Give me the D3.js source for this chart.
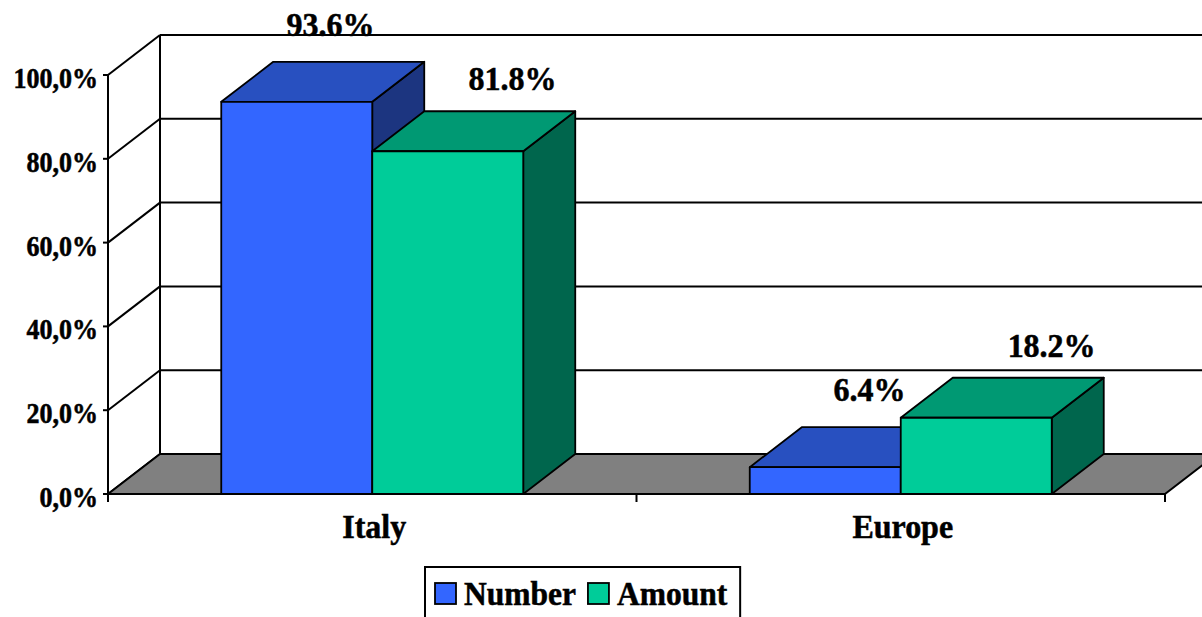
<!DOCTYPE html>
<html>
<head>
<meta charset="utf-8">
<script src="https://cdn.jsdelivr.net/npm/d3@7"></script>
<style>
html,body{margin:0;padding:0;background:#fff;}
svg{display:block;}
text{font-family:"Liberation Serif","Times New Roman",serif;font-weight:bold;fill:#000;stroke:#000;stroke-width:0.5px;}
</style>
</head>
<body>
<svg id="chart" width="1202" height="617"></svg>
<script>
// ---- data ----
const categories = ["Italy", "Europe"];
const seriesNames = ["Number", "Amount"];
const numberValues = [93.6, 6.4];
const amountValues = [81.8, 18.2];
const yTicks = [0, 20, 40, 60, 80, 100];

// ---- styling (not data) ----
const palette = {
  Number: {front: "#3366FF", top: "#2850C0", side: "#1C3580"},
  Amount: {front: "#00CC99", top: "#009973", side: "#00664D"}
};
const labelShift = {Number: {dx: 30, dy: -26}, Amount: {dx: 58, dy: -21}};

const svg = d3.select("#chart");
const W = 1202, H = 617;
const DX = 52, DY = -40;          // depth offset of the 3D box
const left = 108, right = 1165, bottom = 494, topY = 75;

const y = d3.scaleLinear().domain([0, 100]).range([bottom, topY]);
const x0 = d3.scaleBand().domain(categories).range([left, right]).padding(0);
const groupW = 302;
const x1 = d3.scaleBand().domain(seriesNames)
  .range([(x0.bandwidth() - groupW) / 2, (x0.bandwidth() + groupW) / 2]).padding(0);

const rows = categories.map((c, i) => ({cat: c, values: {Number: numberValues[i], Amount: amountValues[i]}}));

const stroke = "#000";
const g = svg.append("g");

function label(parent, x, yb, txt, size, anchor, sy) {
  return parent.append("text")
    .attr("transform", `translate(${x},${yb}) scale(1,${sy || 1})`)
    .attr("text-anchor", anchor).attr("font-size", size).text(txt);
}

// ---- back wall gridlines and left wall ----
const grid = g.append("g");
yTicks.forEach(t => {
  const yf = y(t);
  grid.append("line").attr("x1", left + DX).attr("y1", yf + DY).attr("x2", W + 40).attr("y2", yf + DY)
    .attr("stroke", stroke).attr("stroke-width", 2);
  grid.append("line").attr("x1", left).attr("y1", yf).attr("x2", left + DX).attr("y2", yf + DY)
    .attr("stroke", stroke).attr("stroke-width", 2);
});
grid.append("line").attr("x1", left + DX).attr("y1", y(100) + DY).attr("x2", left + DX).attr("y2", y(0) + DY)
  .attr("stroke", stroke).attr("stroke-width", 2);

// ---- floor ----
g.append("path")
  .attr("d", `M${left},${y(0)} L${right},${y(0)} L${right + DX},${y(0) + DY} L${left + DX},${y(0) + DY} Z`)
  .attr("fill", "#808080").attr("stroke", stroke).attr("stroke-width", 2).attr("stroke-linejoin", "round");

// ---- front y axis ----
g.append("line").attr("x1", left).attr("y1", y(0)).attr("x2", left).attr("y2", y(100))
  .attr("stroke", stroke).attr("stroke-width", 2);
const fmt = v => d3.format(".1f")(v).replace(".", ",") + "%";
yTicks.forEach(t => {
  g.append("line").attr("x1", left - 5).attr("x2", left).attr("y1", y(t)).attr("y2", y(t))
    .attr("stroke", stroke).attr("stroke-width", 2);
  label(g, 98, y(t) + 13, fmt(t), 26, "end", 1.15);
});

// ---- category axis ----
g.append("line").attr("x1", left).attr("x2", right).attr("y1", y(0)).attr("y2", y(0))
  .attr("stroke", stroke).attr("stroke-width", 2);
const catEdges = categories.map(c => x0(c)).concat([x0(categories[categories.length - 1]) + x0.bandwidth()]);
catEdges.forEach(xe => {
  g.append("line").attr("x1", xe).attr("x2", xe).attr("y1", y(0)).attr("y2", y(0) + 8)
    .attr("stroke", stroke).attr("stroke-width", 2);
});
categories.forEach(c => {
  label(g, x0(c) + x0.bandwidth() / 2 + 2, 538, c, 32, "middle", 1.05);
});

// ---- 3D bars ----
const bars = g.append("g");
rows.forEach(r => {
  seriesNames.forEach(s => {
    const v = r.values[s];
    const xa = x0(r.cat) + x1(s), xb = xa + x1.bandwidth();
    const yt = y(v), yb = y(0);
    const col = palette[s];
    const bg = bars.append("g").attr("stroke", stroke).attr("stroke-width", 1.8).attr("stroke-linejoin", "round");
    bg.append("path").attr("d", `M${xb},${yt} L${xb + DX},${yt + DY} L${xb + DX},${yb + DY} L${xb},${yb} Z`)
      .attr("fill", col.side);
    bg.append("path").attr("d", `M${xa},${yt} L${xa + DX},${yt + DY} L${xb + DX},${yt + DY} L${xb},${yt} Z`)
      .attr("fill", col.top);
    bg.append("rect").attr("x", xa).attr("y", yt).attr("width", xb - xa).attr("height", yb - yt)
      .attr("fill", col.front);
  });
});

// ---- value labels (slight perspective drift to the right) ----
rows.forEach(r => {
  seriesNames.forEach(s => {
    const v = r.values[s];
    const xc = x0(r.cat) + x1(s) + x1.bandwidth() / 2;
    const xl = xc + labelShift[s].dx + 0.02 * (xc - left);
    label(g, xl, y(v) + DY + labelShift[s].dy, d3.format(".1f")(v) + "%", 32, "middle", 1.08);
  });
});

// ---- legend ----
const leg = svg.append("g");
const box = leg.append("rect").attr("x", 425).attr("y", 567).attr("height", 70)
  .attr("fill", "#fff").attr("stroke", stroke).attr("stroke-width", 2);
let cx = 435;
seriesNames.forEach(s => {
  leg.append("rect").attr("x", cx).attr("y", 583).attr("width", 21).attr("height", 21)
    .attr("fill", palette[s].front).attr("stroke", stroke).attr("stroke-width", 1.8);
  const t = label(leg, cx + 29, 605, s, 31.5, "start", 1.05);
  const w = t.node().getComputedTextLength();
  cx = cx + 29 + w + 12;
});
box.attr("width", cx - 12 + 13 - 425);
</script>
</body>
</html>
